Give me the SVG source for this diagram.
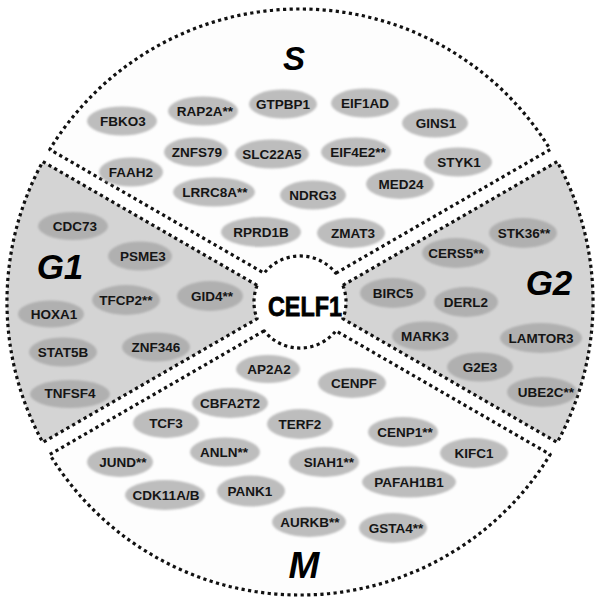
<svg xmlns="http://www.w3.org/2000/svg" width="595" height="603" viewBox="0 0 595 603">
  <defs>
    <filter id="soft" x="-20%" y="-40%" width="140%" height="180%">
      <feGaussianBlur stdDeviation="1.3"/>
    </filter>
    <style>
      .sector { stroke: #111; stroke-width: 3.2; stroke-dasharray: 3.2 3.4; stroke-linejoin: round; }
      .light { fill: #fdfdfd; }
      .grey { fill: #d4d4d4; }
      .pill { fill: #bdbdbd; filter: url(#soft); }
      .pill.dk { fill: #b0b0b0; }
      .lbl { font-family: "Liberation Sans", Arial, sans-serif; font-weight: bold; font-size: 13.5px; fill: #151515; text-anchor: middle; }
      .phase { font-family: "Liberation Sans", Arial, sans-serif; font-weight: bold; font-style: italic; fill: #000; text-anchor: middle; }
      .core { font-family: "Liberation Sans", Arial, sans-serif; font-weight: bold; font-size: 28px; fill: #000; stroke: #000; stroke-width: 0.8; text-anchor: middle; }
    </style>
  </defs>

  <rect width="595" height="603" fill="#ffffff"/>

  <!-- cell-cycle sectors around the centre (300,302), outer r=293, inner r=46 -->
  <g id="sector-S">
    <path class="sector light" d="M335.9 273.2 L550.2 149.5 A293 293 0 0 0 49.8 149.5 L264.1 273.2 A46 46 0 0 1 335.9 273.2 Z"/>
    <text class="phase" x="294" y="70" font-size="33">S</text>
  </g>
  <g id="sector-G2">
    <path class="sector grey" d="M342.9 285.3 L557.2 161.6 A293 293 0 0 1 557.2 442.4 L342.9 318.7 A46 46 0 0 0 342.9 285.3 Z"/>
    <text class="phase" x="549" y="295" font-size="35">G2</text>
  </g>
  <g id="sector-G1">
    <path class="sector grey" d="M257.1 285.3 L42.8 161.6 A293 293 0 0 0 42.8 442.4 L257.1 318.7 A46 46 0 0 1 257.1 285.3 Z"/>
    <text class="phase" x="60" y="279" font-size="35">G1</text>
  </g>
  <g id="sector-M">
    <path class="sector light" d="M264.1 330.8 L49.8 454.5 A293 293 0 0 0 550.2 454.5 L335.9 330.8 A46 46 0 0 1 264.1 330.8 Z"/>
    <text class="phase" x="304" y="578" font-size="37">M</text>
  </g>

  <!-- central node -->
  <g id="CELF1">
    <text class="core" x="305" y="316" textLength="74" lengthAdjust="spacingAndGlyphs">CELF1</text>
  </g>

  <!-- S phase genes -->
  <g id="FBKO3"><ellipse class="pill" cx="122" cy="121" rx="35" ry="14.5"/><text class="lbl" x="123" y="126">FBKO3</text></g>
  <g id="RAP2A"><ellipse class="pill" cx="203" cy="111" rx="35" ry="14.5"/><text class="lbl" x="205" y="116">RAP2A**</text></g>
  <g id="GTPBP1"><ellipse class="pill" cx="283" cy="104" rx="34" ry="14.5"/><text class="lbl" x="283" y="109">GTPBP1</text></g>
  <g id="EIF1AD"><ellipse class="pill" cx="365" cy="103" rx="34" ry="14.5"/><text class="lbl" x="365" y="108">EIF1AD</text></g>
  <g id="GINS1"><ellipse class="pill" cx="435" cy="123" rx="33" ry="14.5"/><text class="lbl" x="436" y="128">GINS1</text></g>
  <g id="ZNFS79"><ellipse class="pill" cx="196" cy="152" rx="32" ry="14.5"/><text class="lbl" x="197" y="157">ZNFS79</text></g>
  <g id="SLC22A5"><ellipse class="pill" cx="272" cy="154" rx="37" ry="14.5"/><text class="lbl" x="272" y="159">SLC22A5</text></g>
  <g id="EIF4E2"><ellipse class="pill" cx="356" cy="152" rx="35" ry="14.5"/><text class="lbl" x="358" y="157">EIF4E2**</text></g>
  <g id="STYK1"><ellipse class="pill" cx="458" cy="162" rx="34" ry="14.5"/><text class="lbl" x="459" y="167">STYK1</text></g>
  <g id="FAAH2"><ellipse class="pill" cx="131" cy="172" rx="32" ry="14.5"/><text class="lbl" x="131" y="177">FAAH2</text></g>
  <g id="LRRC8A"><ellipse class="pill" cx="214" cy="192" rx="41" ry="14.5"/><text class="lbl" x="215" y="197">LRRC8A**</text></g>
  <g id="NDRG3"><ellipse class="pill" cx="313" cy="195" rx="33" ry="14.5"/><text class="lbl" x="313" y="200">NDRG3</text></g>
  <g id="MED24"><ellipse class="pill" cx="400" cy="184" rx="34" ry="15"/><text class="lbl" x="401" y="189">MED24</text></g>
  <g id="RPRD1B"><ellipse class="pill" cx="261" cy="232" rx="40" ry="15"/><text class="lbl" x="261" y="237">RPRD1B</text></g>
  <g id="ZMAT3"><ellipse class="pill" cx="351" cy="233" rx="34" ry="15"/><text class="lbl" x="353" y="238">ZMAT3</text></g>

  <!-- G1 phase genes -->
  <g id="CDC73"><ellipse class="pill dk" cx="73" cy="226" rx="35" ry="14"/><text class="lbl" x="75" y="231">CDC73</text></g>
  <g id="PSME3"><ellipse class="pill dk" cx="140" cy="256" rx="32" ry="14.5"/><text class="lbl" x="143" y="261">PSME3</text></g>
  <g id="GID4"><ellipse class="pill dk" cx="210" cy="296" rx="33" ry="15"/><text class="lbl" x="212" y="301">GID4**</text></g>
  <g id="TFCP2"><ellipse class="pill dk" cx="126" cy="300" rx="34" ry="15"/><text class="lbl" x="126" y="305">TFCP2**</text></g>
  <g id="HOXA1"><ellipse class="pill dk" cx="51" cy="314" rx="33" ry="13.5"/><text class="lbl" x="54" y="319">HOXA1</text></g>
  <g id="ZNF346"><ellipse class="pill dk" cx="156" cy="347" rx="34" ry="14.5"/><text class="lbl" x="156" y="352">ZNF346</text></g>
  <g id="STAT5B"><ellipse class="pill dk" cx="63" cy="352" rx="34" ry="14.5"/><text class="lbl" x="63" y="357">STAT5B</text></g>
  <g id="TNFSF4"><ellipse class="pill dk" cx="70" cy="394" rx="40" ry="14"/><text class="lbl" x="70" y="398">TNFSF4</text></g>

  <!-- G2 phase genes -->
  <g id="STK36"><ellipse class="pill dk" cx="523" cy="233" rx="34" ry="15"/><text class="lbl" x="524" y="238">STK36**</text></g>
  <g id="CERS5"><ellipse class="pill dk" cx="456" cy="253" rx="34" ry="15"/><text class="lbl" x="456" y="258">CERS5**</text></g>
  <g id="BIRC5"><ellipse class="pill dk" cx="393" cy="293" rx="33" ry="15"/><text class="lbl" x="393" y="298">BIRC5</text></g>
  <g id="DERL2"><ellipse class="pill dk" cx="466" cy="302" rx="32" ry="15"/><text class="lbl" x="466" y="307">DERL2</text></g>
  <g id="MARK3"><ellipse class="pill dk" cx="425" cy="336" rx="33" ry="14.5"/><text class="lbl" x="425" y="341">MARK3</text></g>
  <g id="LAMTOR3"><ellipse class="pill dk" cx="541" cy="338" rx="41" ry="15"/><text class="lbl" x="541" y="343">LAMTOR3</text></g>
  <g id="G2E3"><ellipse class="pill dk" cx="480" cy="367" rx="33" ry="14.5"/><text class="lbl" x="480" y="372">G2E3</text></g>
  <g id="UBE2C"><ellipse class="pill dk" cx="542" cy="392" rx="35" ry="15"/><text class="lbl" x="546" y="397">UBE2C**</text></g>

  <!-- M phase genes -->
  <g id="AP2A2"><ellipse class="pill" cx="268" cy="369" rx="32" ry="14"/><text class="lbl" x="269" y="374">AP2A2</text></g>
  <g id="CENPF"><ellipse class="pill" cx="352" cy="383" rx="34" ry="15"/><text class="lbl" x="354" y="388">CENPF</text></g>
  <g id="CBFA2T2"><ellipse class="pill" cx="230" cy="403" rx="38" ry="15"/><text class="lbl" x="230" y="408">CBFA2T2</text></g>
  <g id="TCF3"><ellipse class="pill" cx="166" cy="423" rx="33" ry="15"/><text class="lbl" x="166" y="428">TCF3</text></g>
  <g id="TERF2"><ellipse class="pill" cx="300" cy="424" rx="33" ry="15"/><text class="lbl" x="300" y="429">TERF2</text></g>
  <g id="CENP1"><ellipse class="pill" cx="403" cy="432" rx="35" ry="15"/><text class="lbl" x="405" y="437">CENP1**</text></g>
  <g id="ANLN"><ellipse class="pill" cx="225" cy="452" rx="35" ry="14.5"/><text class="lbl" x="224" y="457">ANLN**</text></g>
  <g id="KIFC1"><ellipse class="pill" cx="474" cy="453" rx="34" ry="15"/><text class="lbl" x="474" y="458">KIFC1</text></g>
  <g id="JUND"><ellipse class="pill" cx="120" cy="462" rx="33" ry="15"/><text class="lbl" x="123" y="467">JUND**</text></g>
  <g id="SIAH1"><ellipse class="pill" cx="324" cy="462" rx="35" ry="15"/><text class="lbl" x="329" y="467">SIAH1**</text></g>
  <g id="PAFAH1B1"><ellipse class="pill" cx="409" cy="482" rx="47" ry="15.5"/><text class="lbl" x="409" y="487">PAFAH1B1</text></g>
  <g id="PANK1"><ellipse class="pill" cx="251" cy="491" rx="34" ry="15.5"/><text class="lbl" x="250" y="496">PANK1</text></g>
  <g id="CDK11AB"><ellipse class="pill" cx="165" cy="495" rx="40" ry="15"/><text class="lbl" x="166" y="500">CDK11A/B</text></g>
  <g id="AURKB"><ellipse class="pill" cx="309" cy="522" rx="37" ry="15"/><text class="lbl" x="310" y="527">AURKB**</text></g>
  <g id="GSTA4"><ellipse class="pill" cx="393" cy="528" rx="34" ry="15"/><text class="lbl" x="396" y="533">GSTA4**</text></g>
</svg>
